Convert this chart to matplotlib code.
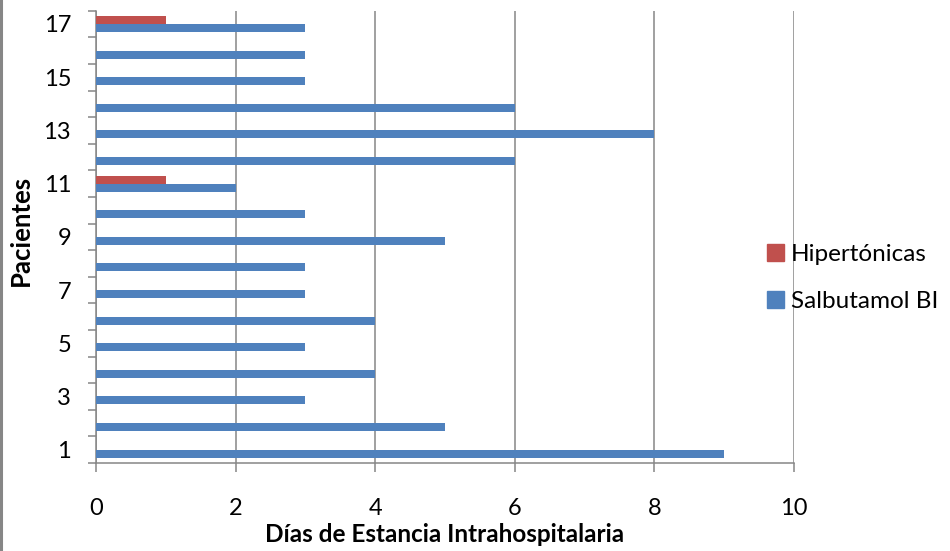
import matplotlib.pyplot as plt
import numpy as np
from matplotlib.lines import Line2D
from matplotlib.patches import Patch

plt.rcParams['font.family'] = ['Lato', 'DejaVu Sans']

# Days of hospital stay per patient
pacientes = list(range(1, 18))
salbutamol = [9, 5, 3, 4, 3, 4, 3, 3, 5, 3, 2, 6, 8, 6, 3, 3, 3]
hipertonicas = [0, 0, 0, 0, 0, 0, 0, 0, 0, 0, 1, 0, 0, 0, 0, 0, 1]

blue = '#4F81BD'
red = '#C0504D'
grey = '#868686'

fig = plt.figure(figsize=(9.5, 5.51), dpi=100)
ax = fig.add_axes([0.1011, 0.1597, 0.7347, 0.8209])

y = np.array(pacientes)
h = 0.3
ax.barh(y - h / 2, salbutamol, height=h, color=blue, zorder=3)
ax.barh(y + h / 2, hipertonicas, height=h, color=red, zorder=3)

ax.set_xlim(0, 10)
ax.set_ylim(0.5, 17.5)
ax.set_xticks(np.arange(0, 11, 2))
ax.set_yticks(pacientes[::2])
ax.set_yticks(np.arange(0.5, 18, 1), minor=True)

ax.grid(axis='x', color=grey, linewidth=1.1, zorder=0)
for s in ['top', 'right']:
    ax.spines[s].set_visible(False)
for s in ['left', 'bottom']:
    ax.spines[s].set_color(grey)
    ax.spines[s].set_linewidth(1.1)

ax.tick_params(axis='x', direction='out', length=6.5, width=1.1, color=grey,
               pad=19, labelsize=17)
ax.tick_params(axis='y', which='major', length=0, pad=18, labelsize=17)
ax.tick_params(axis='y', which='minor', direction='out', length=6, width=1.1,
               color=grey)

ax.set_xlabel('Días de Estancia Intrahospitalaria', fontsize=17.5, fontweight='bold')
ax.set_ylabel('Pacientes', fontsize=18.5, fontweight='bold')
ax.xaxis.set_label_coords(0.5, -0.133)
ax.yaxis.set_label_coords(-0.09, 0.515)

handles = [Patch(color=red, label='Hipertónicas'),
           Patch(color=blue, label='Salbutamol BI')]
fig.legend(handles=handles, loc='center left', bbox_to_anchor=(0.807, 0.495),
           frameon=False, fontsize=17.5, handlelength=0.7, handleheight=0.7,
           handletextpad=0.3, labelspacing=1.05, borderpad=0, borderaxespad=0)

# thin border on the left edge
fig.add_artist(Line2D([0.0015, 0.0015], [0, 1], color=grey, linewidth=2.2,
                      transform=fig.transFigure))

fig.savefig('out.png', dpi=100)
